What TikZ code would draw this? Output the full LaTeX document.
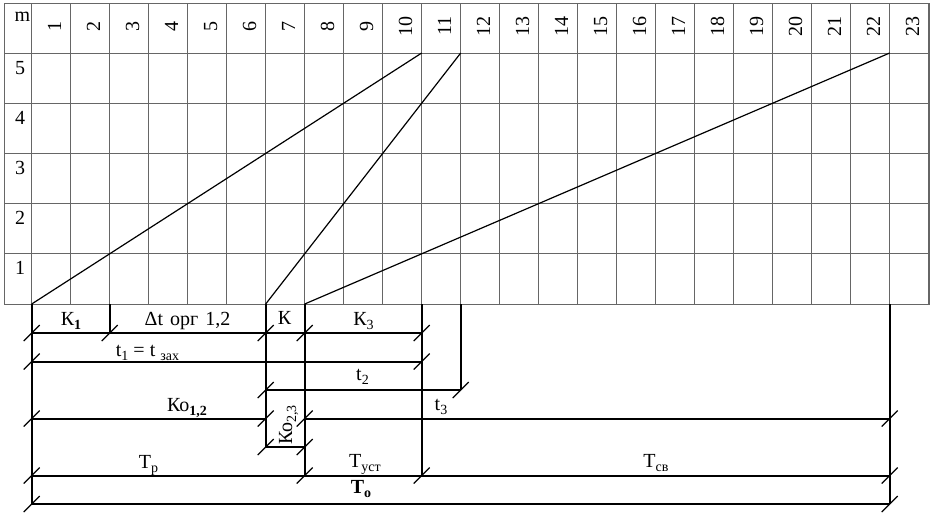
\documentclass[tikz,border=0pt]{standalone}
\usepackage{fontspec}
\setmainfont{Liberation Serif}
\newcommand\sbs[1]{\raisebox{-4pt}{\fontsize{14}{14}\selectfont #1}}
\begin{document}
\begin{tikzpicture}[x=1pt,y=-1pt,
  gridline/.style={draw=black!60, line width=0.9pt},
  diag/.style={line width=1.2pt},
  bar/.style={line width=2pt},
  barthick/.style={line width=2.6pt},
  tk/.style={line width=1.2pt},
  lbl/.style={font=\fontsize{20}{20}\selectfont, inner sep=0pt, anchor=base},
  hdr/.style={font=\fontsize{20}{20}\selectfont, inner sep=0pt, anchor=base, rotate=90}]
\useasboundingbox (0,0) rectangle (933,514);
% ---------- grid ----------
\foreach \i in {0,...,23} \draw[gridline] ({31.7+39*\i},3) -- ({31.7+39*\i},304);
\draw[gridline] (4,3) rectangle (929,304);
\foreach \y in {53,103,153,203,253} \draw[gridline] (4,\y) -- (929,\y);
\node[lbl] (hm) at (22.5,21.7) {m};
\foreach \i in {1,...,23} \node[hdr] (h\i) at ({31.7+39*\i-19.5+10},26) {\i};
\foreach \r/\y in {5/74,4/124,3/174,2/224,1/274} \node[lbl] (r\r) at (20,\y) {\r};
% ---------- key coordinates ----------
\def\xa{31.7}\def\xb{109.7}\def\xc{265.7}\def\xd{304.7}\def\xe{421.7}\def\xf{460.7}\def\xg{889.7}
\coordinate (g0) at (\xa,304); \coordinate (g10) at (\xe,53);
\coordinate (g6) at (\xc,304); \coordinate (g11) at (\xf,53);
\coordinate (g7) at (\xd,304); \coordinate (g22) at (\xg,53);
\draw[diag] (g0) -- (g10);
\draw[diag] (g6) -- (g11);
\draw[diag] (g7) -- (g22);
% rows
\def\ra{304}\def\rb{333}\def\rc{361.5}\def\rd{390}\def\re{418.5}\def\rf{447}\def\rg{475.5}\def\rh{504}
% verticals
\draw[bar] (\xa,\ra) -- (\xa,\rh);
\draw[bar] (\xb,\ra) -- (\xb,\rb);
\draw[bar] (\xc,\ra) -- (\xc,\rf);
\draw[bar] (\xd,\ra) -- (\xd,\rg);
\draw[bar] (\xe,\ra) -- (\xe,\rg);
\draw[bar] (\xf,\ra) -- (\xf,\rd);
\draw[bar] (\xg,\ra) -- (\xg,\rh);
% horizontals
\draw[bar] (\xa,\rb) -- (\xe,\rb);
\draw[bar] (\xa,\rc) -- (\xe,\rc);
\draw[bar] (\xc,\rd) -- (\xf,\rd);
\draw[bar] (\xa,\re) -- (\xc,\re);
\draw[bar] (\xd,\re) -- (\xg,\re);
\draw[bar] (\xc,\rf) -- (\xd,\rf);
\draw[bar] (\xa,\rg) -- (\xg,\rg);
\draw[barthick] (\xa,\rh) -- (\xg,\rh);
% ticks
\foreach \p/\q in {\xa/\rb,\xb/\rb,\xc/\rb,\xd/\rb,\xe/\rb,
                   \xa/\rc,\xe/\rc,
                   \xc/\rd,\xf/\rd,
                   \xa/\re,\xc/\re,\xd/\re,\xg/\re,
                   \xc/\rf,\xd/\rf,
                   \xa/\rg,\xd/\rg,\xe/\rg,\xg/\rg,
                   \xa/\rh,\xg/\rh}
  \draw[tk] ({\p-8},{\q+8}) -- ({\p+8},{\q-8});
% labels
\node[lbl] (k1) at (71,325) {К\sbs{\bfseries 1}};
\node[lbl] (dt) at (187.5,325) {Δt\hspace{0.35em}орг\hspace{0.35em}1,2};
\node[lbl] (k) at (284.5,324.5) {К};
\node[lbl] (k3) at (363.5,325) {К\sbs{3}};
\node[lbl] (t1) at (147.5,356.5) {t\sbs{1} = t \sbs{зах}};
\node[lbl] (t2) at (362.5,380) {t\sbs{2}};
\node[lbl] (t3) at (441,410) {t\sbs{3}};
\node[lbl] (ko12) at (187,411) {Ко\sbs{\bfseries 1,2}};
\node[lbl, rotate=90] (ko23) at (292,425) {Ко\sbs{2,3}};
\node[lbl] (tp) at (148.5,468) {Т\sbs{р}};
\node[lbl] (tust) at (365,467) {Т\sbs{уст}};
\node[lbl] (tsv) at (656,467) {Т\sbs{св}};
\node[lbl] (to) at (361,493) {\bfseries Т\sbs{о}};
\end{tikzpicture}
\end{document}
